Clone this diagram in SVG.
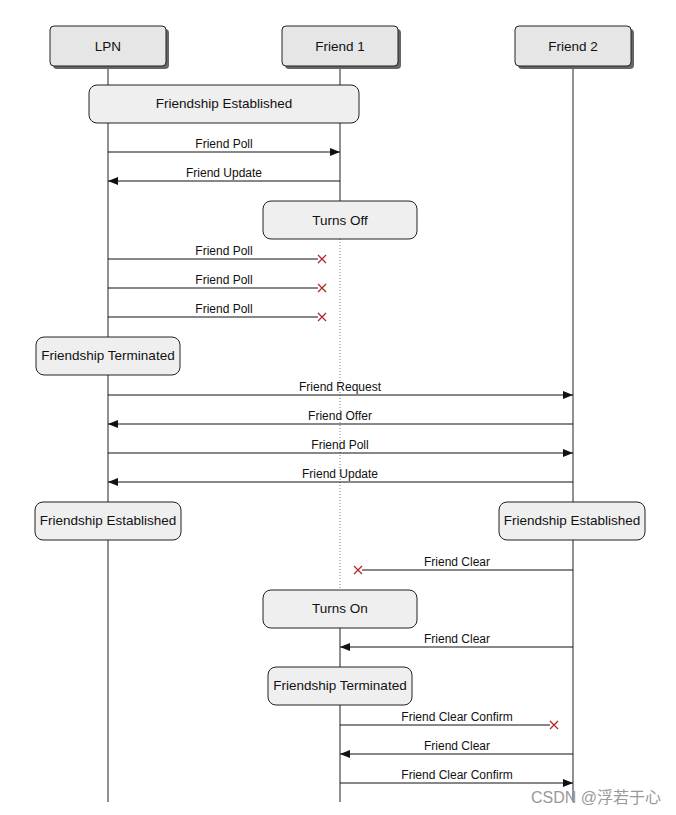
<svg xmlns="http://www.w3.org/2000/svg" width="676" height="815" viewBox="0 0 676 815">
<style>
.hdr{fill:#e6e6e6;stroke:#222;stroke-width:1}
.shd{fill:#666}
.box{fill:#efefef;stroke:#222;stroke-width:1}
.t{font-family:"Liberation Sans",Arial,sans-serif;font-size:13.5px;fill:#111;text-anchor:middle}
.m{font-family:"Liberation Sans",Arial,sans-serif;font-size:12px;fill:#111;text-anchor:middle}
.ll{stroke:#222;stroke-width:1;fill:none}
.dot{stroke:#777;stroke-width:1;stroke-dasharray:1 2;fill:none}
.msg{stroke:#111;stroke-width:1;fill:none}
.x{stroke:#b22222;stroke-width:1.2;fill:none}
</style>
<defs>
<marker id="ah" viewBox="0 0 10 10" refX="10" refY="5" markerWidth="10" markerHeight="10" markerUnits="userSpaceOnUse" orient="auto">
<path d="M0,1 L10,5 L0,9 z" fill="#111"/>
</marker>
</defs>
<rect width="676" height="815" fill="#fff"/>
<g id="lifelines">
<path class="ll" d="M108,66V85M108,123V337M108,375V502M108,540V802"/>
<path class="ll" d="M340,66V85M340,123V201M340,628V667M340,705V802"/>
<path class="dot" d="M340,239V590"/>
<path class="ll" d="M573,66V802"/>
</g>
<g id="lpn"><rect class="shd" x="53" y="29" width="116" height="40" rx="4"/><rect class="hdr" x="50" y="26" width="116" height="40" rx="4"/><text class="t" x="108" y="50.5">LPN</text></g>
<g id="friend1"><rect class="shd" x="285" y="29" width="116" height="40" rx="4"/><rect class="hdr" x="282" y="26" width="116" height="40" rx="4"/><text class="t" x="340" y="50.5">Friend 1</text></g>
<g id="friend2"><rect class="shd" x="518" y="29" width="116" height="40" rx="4"/><rect class="hdr" x="515" y="26" width="116" height="40" rx="4"/><text class="t" x="573" y="50.5">Friend 2</text></g>
<g id="est1"><rect class="box" x="89" y="85" width="270" height="38" rx="8"/><text class="t" x="224" y="108">Friendship Established</text></g>
<g id="off"><rect class="box" x="263" y="201" width="154" height="38" rx="8"/><text class="t" x="340" y="224.5">Turns Off</text></g>
<g id="term1"><rect class="box" x="36" y="337" width="144" height="38" rx="8"/><text class="t" x="108" y="360">Friendship Terminated</text></g>
<g id="est2"><rect class="box" x="35" y="502" width="146" height="38" rx="8"/><text class="t" x="108" y="525">Friendship Established</text></g>
<g id="est3"><rect class="box" x="499" y="502" width="146" height="38" rx="8"/><text class="t" x="572" y="525">Friendship Established</text></g>
<g id="on"><rect class="box" x="263" y="590" width="154" height="38" rx="8"/><text class="t" x="340" y="613">Turns On</text></g>
<g id="term2"><rect class="box" x="268" y="667" width="144" height="38" rx="8"/><text class="t" x="340" y="690">Friendship Terminated</text></g>
<g id="connectors">
<line class="msg" x1="108" y1="152" x2="340" y2="152" marker-end="url(#ah)"/>
<text class="m" x="224" y="148">Friend Poll</text>
<line class="msg" x1="340" y1="181" x2="108" y2="181" marker-end="url(#ah)"/>
<text class="m" x="224" y="177">Friend Update</text>
<line class="msg" x1="108" y1="259" x2="318" y2="259"/>
<path class="x" d="M318,255l8,8M326,255l-8,8"/>
<text class="m" x="224" y="255">Friend Poll</text>
<line class="msg" x1="108" y1="288" x2="318" y2="288"/>
<path class="x" d="M318,284l8,8M326,284l-8,8"/>
<text class="m" x="224" y="284">Friend Poll</text>
<line class="msg" x1="108" y1="317" x2="318" y2="317"/>
<path class="x" d="M318,313l8,8M326,313l-8,8"/>
<text class="m" x="224" y="313">Friend Poll</text>
<line class="msg" x1="108" y1="395" x2="573" y2="395" marker-end="url(#ah)"/>
<text class="m" x="340" y="391">Friend Request</text>
<line class="msg" x1="573" y1="424" x2="108" y2="424" marker-end="url(#ah)"/>
<text class="m" x="340" y="420">Friend Offer</text>
<line class="msg" x1="108" y1="453" x2="573" y2="453" marker-end="url(#ah)"/>
<text class="m" x="340" y="449">Friend Poll</text>
<line class="msg" x1="573" y1="482" x2="108" y2="482" marker-end="url(#ah)"/>
<text class="m" x="340" y="478">Friend Update</text>
<line class="msg" x1="573" y1="570" x2="362" y2="570"/>
<path class="x" d="M354,566l8,8M362,566l-8,8"/>
<text class="m" x="457" y="566">Friend Clear</text>
<line class="msg" x1="573" y1="647" x2="340" y2="647" marker-end="url(#ah)"/>
<text class="m" x="457" y="643">Friend Clear</text>
<line class="msg" x1="340" y1="725" x2="550" y2="725"/>
<path class="x" d="M550,721l8,8M558,721l-8,8"/>
<text class="m" x="457" y="721">Friend Clear Confirm</text>
<line class="msg" x1="573" y1="754" x2="340" y2="754" marker-end="url(#ah)"/>
<text class="m" x="457" y="750">Friend Clear</text>
<line class="msg" x1="340" y1="783" x2="573" y2="783" marker-end="url(#ah)"/>
<text class="m" x="457" y="779">Friend Clear Confirm</text>
</g>
<text x="661" y="803" font-family="'Liberation Sans','Noto Sans CJK SC',sans-serif" font-size="16" fill="#999" text-anchor="end">CSDN @浮若于心</text>
</svg>
